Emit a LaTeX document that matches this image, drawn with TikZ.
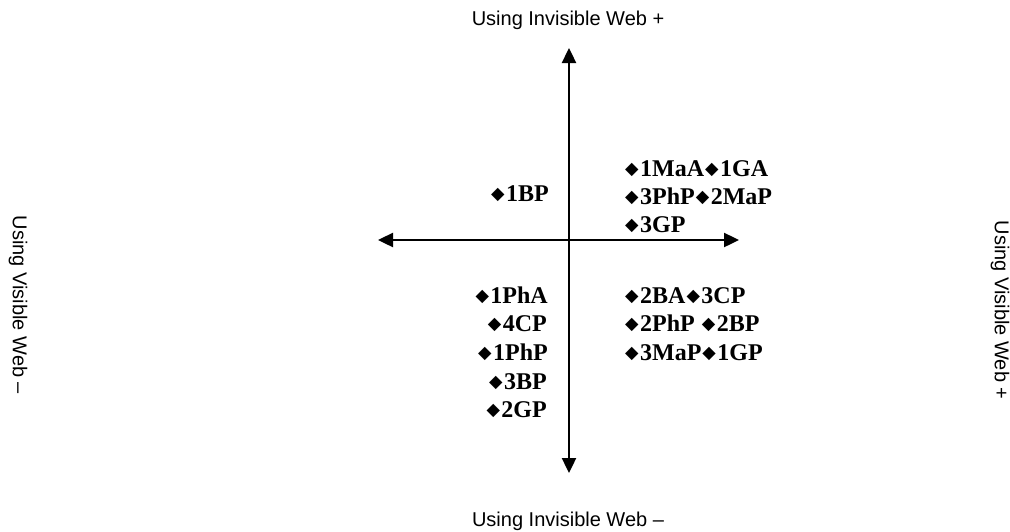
\documentclass[tikz,border=0pt]{standalone}
\usepackage{fontspec}
\setmainfont{Liberation Serif}
\newfontfamily\axfont{Liberation Sans}
\newfontfamily\symfont{DejaVu Sans}
\usetikzlibrary{arrows.meta}
\newcommand{\dm}{{\kern1pt\symfont\fontsize{17.5}{17.5}\selectfont\raisebox{1.5pt}{◆}\kern1.5pt}}
\tikzset{
  axis/.style={line width=2.4pt, {Triangle[length=15pt,width=14pt]}-{Triangle[length=15pt,width=14pt]}},
  axlabel/.style={font=\axfont\fontsize{20}{22}\selectfont, inner sep=0pt},
  item/.style={font=\bfseries\fontsize{24}{26}\selectfont, inner sep=0pt, text height=16pt, text depth=0pt}
}
\begin{document}
\begin{tikzpicture}[x=1pt,y=-1pt]
\useasboundingbox (0,0) rectangle (1010,531);
% axes
\coordinate (T) at (569,48);
\coordinate (B) at (569,473);
\coordinate (L) at (378,240);
\coordinate (R) at (739,240);
\draw[axis] (L) -- (R);
\draw[axis] (B) -- (T);
% axis labels
\node[axlabel] (ltop) at (568,20) {Using Invisible Web +};
\node[axlabel] (lbot) at (568,521) {Using Invisible Web –};
\node[axlabel, rotate=-90] (lleft) at (18,305) {Using Visible Web –};
\node[axlabel, rotate=-90] (lright) at (1000,310) {Using Visible Web +};
% quadrant items
\node[item, anchor=west] (q1) at (490,193) {\dm1BP};
\node[item, anchor=west] (a1) at (624,168) {\dm1MaA\dm1GA};
\node[item, anchor=west] (a2) at (624,196) {\dm3PhP\dm2MaP};
\node[item, anchor=west] (a3) at (624,224) {\dm3GP};
\node[item, anchor=west] (b1) at (624,295) {\dm2BA\dm3CP};
\node[item, anchor=west] (b2) at (624,323) {\dm2PhP \dm2BP};
\node[item, anchor=west] (b3) at (624,352) {\dm3MaP\dm1GP};
\node[item, anchor=east] (c1) at (548,295) {\dm1PhA};
\node[item, anchor=east] (c2) at (547,323) {\dm4CP};
\node[item, anchor=east] (c3) at (548,352) {\dm1PhP};
\node[item, anchor=east] (c4) at (547,381) {\dm3BP};
\node[item, anchor=east] (c5) at (547,409) {\dm2GP};
\end{tikzpicture}
\end{document}
